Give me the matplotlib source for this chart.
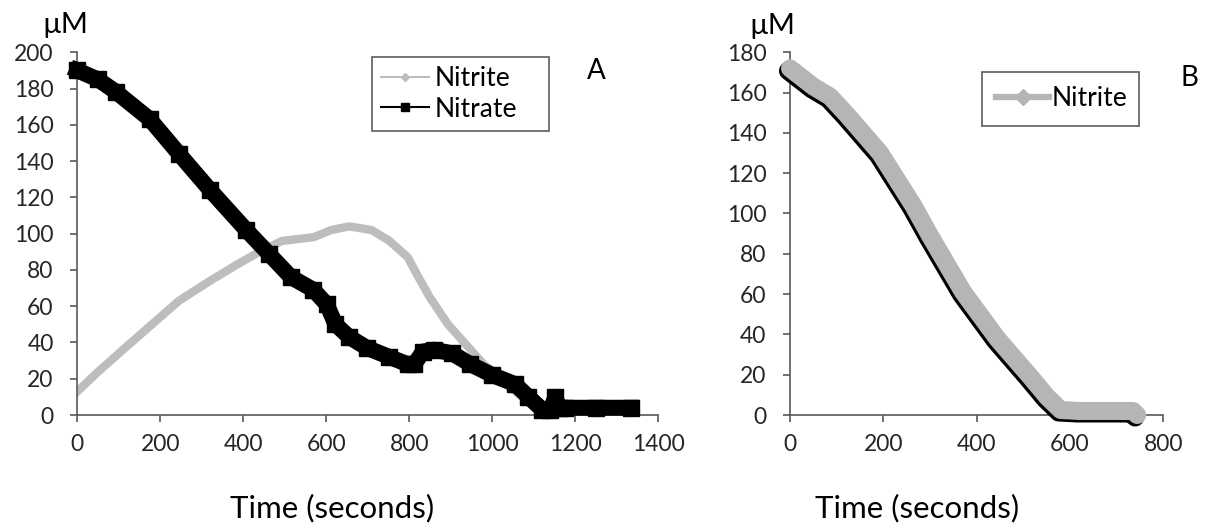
import numpy as np
import matplotlib.pyplot as plt
import matplotlib.patheffects as pe
from matplotlib.lines import Line2D

plt.rcParams['font.family'] = ['Lato', 'DejaVu Sans']

# panel A, nitrate (black)
a_nitrate_t = [0, 50, 94, 175, 245, 320, 407, 461, 515, 569, 601, 622, 655, 698, 752, 796,
               812, 833, 860, 903, 947, 1000, 1055, 1087, 1120, 1140, 1152, 1160, 1174, 1250, 1335]
a_nitrate_c = [190, 185, 178, 163, 144, 124, 102, 89, 76, 69, 61, 50, 43, 37, 32, 28,
               28, 35, 36, 34, 28, 22, 17, 10, 3, 3, 10, 4, 4, 4, 4]

# panel A, nitrite (grey)
a_nitrite_t = [0, 51, 105, 180, 245, 320, 385, 439, 493, 569, 612, 655, 709, 752, 796, 822,
               849, 893, 936, 979, 1011, 1050, 1100, 1150, 1335]
a_nitrite_c = [13, 24, 35, 50, 63, 74, 83, 90, 96, 98, 102, 104, 102, 96, 87, 76,
               65, 50, 39, 28, 22, 14, 5, 2, 2]

# panel B, nitrite (grey)
b_nitrite_t = [0, 50, 86, 122, 193, 264, 300, 371, 444, 515, 551, 580, 620, 680, 735, 744]
b_nitrite_c = [172, 163, 158, 149, 130, 104, 89, 61, 38, 19, 9, 2.5, 2, 2, 2, 0]

grey = '#BDBDBD'
fs = 16.5

fig = plt.figure(figsize=(12.08, 5.28), dpi=100)
axA = fig.add_axes([0.064, 0.214, 0.481, 0.687])
axB = fig.add_axes([0.654, 0.214, 0.309, 0.687])

axA.plot(a_nitrite_t, a_nitrite_c, color=grey, lw=6, solid_joinstyle='round', zorder=2)
axA.plot(a_nitrate_t, a_nitrate_c, color='black', lw=11.5, marker='s', ms=12, zorder=3,
         clip_on=False)
axA.set_xlim(0, 1400)
axA.set_ylim(0, 200)
axA.set_xticks(np.arange(0, 1401, 200))
axA.set_yticks(np.arange(0, 201, 20))

axB.plot(b_nitrite_t, b_nitrite_c, color='#B5B5B5', lw=13, solid_joinstyle='round',
         solid_capstyle='round', zorder=3, clip_on=False,
         path_effects=[pe.SimpleLineShadow(offset=(-1.5, -1.8), shadow_color='black', alpha=1.0),
                       pe.Normal()])
axB.set_xlim(0, 800)
axB.set_ylim(0, 180)
axB.set_xticks(np.arange(0, 801, 200))
axB.set_yticks(np.arange(0, 181, 20))

for ax in (axA, axB):
    ax.spines['top'].set_visible(False)
    ax.spines['right'].set_visible(False)
    for s in ('left', 'bottom'):
        ax.spines[s].set_color('#595959')
        ax.spines[s].set_linewidth(1.2)
    ax.tick_params(direction='out', length=5, width=1.2, color='#595959', labelsize=fs,
                   labelcolor='#262626')
    ax.tick_params(axis='x', pad=9)
    ax.tick_params(axis='y', pad=12)

# legends (boxes stretched to the reference width)
hA = [Line2D([], [], color=grey, lw=1.5, marker='D', ms=4),
      Line2D([], [], color='black', lw=1.5, marker='s', ms=6)]
legA = axA.legend(hA, ['Nitrite', 'Nitrate'], loc='upper left',
                  bbox_to_anchor=(0.507, 0.0, 0.305, 0.987), mode='expand',
                  fontsize=19, frameon=True, fancybox=False, handlelength=1.8,
                  handletextpad=0.22, borderpad=0.35, labelspacing=0.2, borderaxespad=0)
legA.get_frame().set_edgecolor('#333333')
legA.get_frame().set_linewidth(1.2)

hB = [Line2D([], [], color='#B5B5B5', lw=4.5, marker='D', ms=8)]
legB = axB.legend(hB, ['Nitrite'], loc='upper left',
                  bbox_to_anchor=(0.514, 0.0, 0.42, 0.946), mode='expand',
                  fontsize=19, frameon=True, fancybox=False, handlelength=2.0,
                  handletextpad=0.1, borderpad=0.55, borderaxespad=0)
legB.get_frame().set_edgecolor('#333333')
legB.get_frame().set_linewidth(1.2)

# panel letters, units and axis titles
fig.text(596 / 1208, 1 - 71 / 528, 'A', fontsize=20, ha='center', va='center')
fig.text(1189 / 1208, 1 - 78 / 528, 'B', fontsize=20, ha='center', va='center')
fig.text(65 / 1208, 1 - 25 / 528, 'µM', fontsize=21, ha='center', va='center')
fig.text(772 / 1208, 1 - 26 / 528, 'µM', fontsize=21, ha='center', va='center')
fig.text(332 / 1208, 1 - 508 / 528, 'Time (seconds)', fontsize=22.5, ha='center', va='center')
fig.text(917 / 1208, 1 - 508 / 528, 'Time (seconds)', fontsize=22.5, ha='center', va='center')

plt.savefig('out.png', dpi=100)
